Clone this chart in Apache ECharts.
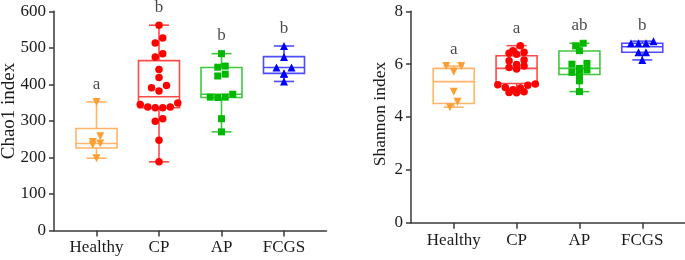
<!DOCTYPE html>
<html>
<head>
<meta charset="utf-8">
<script src="https://cdn.jsdelivr.net/npm/echarts@6/dist/echarts.min.js"></script>
<style>
html,body{margin:0;padding:0;background:#fff;}
#c{width:685px;height:260px;}
</style>
</head>
<body>
<div id="c"></div>
<script>
// ---------- DATA ----------
const categories = ['Healthy', 'CP', 'AP', 'FCGS'];

const chao1Healthy = [352, 258, 242, 238, 235, 198];
const chao1CP = [562, 527, 513, 484, 475, 441, 419, 397, 391, 382, 349, 345, 338, 338, 336, 336, 306, 299, 247, 188];
const chao1AP = [484, 450, 447, 428, 423, 373, 365, 365, 364, 306, 270];
const chao1FCGS = [505, 475, 446, 446, 430, 429, 408];
// [min, Q1, median, Q3, max]
const chao1Box = [
  [198, 226, 238, 279, 352],
  [188, 336, 366, 465, 562],
  [270, 364, 373, 446, 484],
  [408, 430, 446, 476, 505]
];
const chao1Letters = ['a', 'b', 'b', 'b'];
const chao1LetterY = [400, 609, 534, 553];
const chao1Ticks = [0, 100, 200, 300, 400, 500, 600];

const shannonHealthy = [5.93, 5.93, 5.71, 4.96, 4.58, 4.37];
const shannonCP = [6.70, 6.51, 6.45, 6.41, 6.37, 6.16, 6.13, 5.99, 5.93, 5.87, 5.82, 5.25, 5.22, 5.20, 5.12, 5.10, 5.03, 4.96, 4.93, 4.92];
const shannonAP = [6.79, 6.69, 6.51, 6.03, 6.00, 5.84, 5.78, 5.69, 5.61, 5.37, 4.96];
const shannonFCGS = [6.87, 6.79, 6.79, 6.79, 6.45, 6.45, 6.16];
const shannonBox = [
  [4.37, 4.51, 5.34, 5.84, 5.93],
  [4.92, 5.27, 5.84, 6.32, 6.70],
  [4.96, 5.61, 5.84, 6.50, 6.79],
  [6.16, 6.45, 6.66, 6.79, 6.87]
];
const shannonLetters = ['a', 'a', 'ab', 'b'];
const shannonLetterY = [6.56, 7.35, 7.48, 7.48];
const shannonTicks = [0, 2, 4, 6, 8];

// ---------- STYLE / LAYOUT ----------
const pointColors = ['#FF9F33', '#FF0000', '#00B800', '#0000FF'];
const boxColors = ['#FFB469', '#FF4A4A', '#3FC83F', '#4D4DFF'];
const symbols = ['triangle', 'circle', 'rect', 'triangle'];
const symbolRot = [180, 0, 0, 0];
const symbolSizes = [8, 7.5, 7, 8];
const FONT = 'Liberation Serif';
const XMIN = 0.32, XMAX = 4.68;

const grids = [
  {left: 54, top: 11.3, width: 272.5, height: 219.2},
  {left: 411, top: 11.3, width: 274, height: 211.4}
];
const yMax = [600, 8];

// Beeswarm-like layout computed from the values
function swarm(values, gi, gridIdx) {
  const g = grids[gridIdx];
  const pxPerUnit = g.height / yMax[gridIdx];
  const pxPerX = g.width / (XMAX - XMIN);
  const thresh = 6, spacing = 7.5;
  const sorted = values.slice().sort((a, b) => b - a);
  const bins = [];
  let cur = null;
  sorted.forEach(v => {
    if (cur && (cur[0] - v) * pxPerUnit <= thresh) cur.push(v);
    else { cur = [v]; bins.push(cur); }
  });
  const out = [];
  bins.forEach(bin => {
    const n = bin.length;
    const asc = bin.slice().sort((a, b) => a - b);
    const slots = [];
    for (let i = 0; i < n; i++) slots.push(i - (n - 1) / 2);
    slots.sort((a, b) => Math.abs(a) - Math.abs(b) || a - b);
    asc.forEach((v, i) => out.push([gi + 1 + slots[i] * spacing / pxPerX, v]));
  });
  return out;
}

function boxSeries(boxes, idx) {
  return {
    type: 'custom',
    xAxisIndex: idx, yAxisIndex: idx,
    z: 2,
    clip: false,
    data: boxes.map((b, i) => [i + 1].concat(b)),
    encode: {x: 0, y: [1, 2, 3, 4, 5]},
    renderItem: function (params, api) {
      const x = api.value(0);
      const col = boxColors[params.dataIndex];
      const p = k => api.coord([x, api.value(k)]);
      const mn = p(1), q1 = p(2), md = p(3), q3 = p(4), mx = p(5);
      const cx = mn[0];
      const half = 20.5, cap = 10;
      const ls = {stroke: col, lineWidth: 1.6, fill: null};
      return {
        type: 'group',
        children: [
          {type: 'line', shape: {x1: cx, y1: q3[1], x2: cx, y2: mx[1]}, style: ls},
          {type: 'line', shape: {x1: cx, y1: q1[1], x2: cx, y2: mn[1]}, style: ls},
          {type: 'line', shape: {x1: cx - cap, y1: mx[1], x2: cx + cap, y2: mx[1]}, style: ls},
          {type: 'line', shape: {x1: cx - cap, y1: mn[1], x2: cx + cap, y2: mn[1]}, style: ls},
          {type: 'rect', shape: {x: cx - half, y: q3[1], width: 2 * half, height: q1[1] - q3[1]}, style: ls},
          {type: 'line', shape: {x1: cx - half, y1: md[1], x2: cx + half, y2: md[1]}, style: ls}
        ]
      };
    }
  };
}

function pointSeries(groups, idx) {
  return groups.map((vals, gi) => ({
    type: 'scatter',
    xAxisIndex: idx, yAxisIndex: idx,
    z: 3,
    clip: false,
    symbol: symbols[gi],
    symbolRotate: symbolRot[gi],
    symbolSize: symbolSizes[gi],
    itemStyle: {color: pointColors[gi], opacity: 1},
    data: swarm(vals, gi, idx)
  }));
}

function letterSeries(letters, ys, idx) {
  return {
    type: 'scatter',
    xAxisIndex: idx, yAxisIndex: idx,
    z: 4,
    clip: false,
    symbolSize: 0,
    silent: true,
    data: letters.map((t, i) => ({value: [i + 1, ys[i]], name: t})),
    label: {
      show: true, position: 'inside',
      formatter: p => p.name,
      fontFamily: FONT, fontSize: 17, color: '#1a1a1a'
    }
  };
}

const axisLineStyle = {color: '#3a3a3a', width: 1.5};

function xAxis(idx) {
  return {
    type: 'value', gridIndex: idx, min: XMIN, max: XMAX,
    axisLine: {show: true, onZero: false, lineStyle: axisLineStyle},
    axisTick: {show: true, length: 6, lineStyle: axisLineStyle, customValues: [1, 2, 3, 4]},
    axisLabel: {
      customValues: [1, 2, 3, 4],
      formatter: v => categories[Math.round(v) - 1],
      fontFamily: FONT, fontSize: 17, color: '#1a1a1a', margin: 9
    },
    splitLine: {show: false}
  };
}
function yAxis(idx, ticks) {
  return {
    type: 'value', gridIndex: idx,
    min: ticks[0], max: ticks[ticks.length - 1], interval: ticks[1] - ticks[0],
    axisLine: {show: true, lineStyle: axisLineStyle},
    axisTick: {show: true, length: 5, lineStyle: axisLineStyle},
    axisLabel: {fontFamily: FONT, fontSize: 17, color: '#1a1a1a', margin: 8},
    splitLine: {show: false}
  };
}

const chart = echarts.init(document.getElementById('c'), null, {renderer: 'canvas'});
chart.setOption({
  animation: false,
  backgroundColor: '#fff',
  grid: grids.map(g => Object.assign({containLabel: false}, g)),
  xAxis: [xAxis(0), xAxis(1)],
  yAxis: [yAxis(0, chao1Ticks), yAxis(1, shannonTicks)],
  graphic: [
    {type: 'text', x: 9, y: 111, rotation: Math.PI / 2,
     style: {text: 'Chao1 index', font: '19px "Liberation Serif"', fill: '#1a1a1a', align: 'center', verticalAlign: 'middle'}},
    {type: 'text', x: 380, y: 114, rotation: Math.PI / 2,
     style: {text: 'Shannon index', font: '17.5px "Liberation Serif"', fill: '#1a1a1a', align: 'center', verticalAlign: 'middle'}}
  ],
  series: [
    boxSeries(chao1Box, 0),
    boxSeries(shannonBox, 1)
  ].concat(
    pointSeries([chao1Healthy, chao1CP, chao1AP, chao1FCGS], 0),
    pointSeries([shannonHealthy, shannonCP, shannonAP, shannonFCGS], 1),
    [letterSeries(chao1Letters, chao1LetterY, 0), letterSeries(shannonLetters, shannonLetterY, 1)]
  )
});
</script>
</body>
</html>
